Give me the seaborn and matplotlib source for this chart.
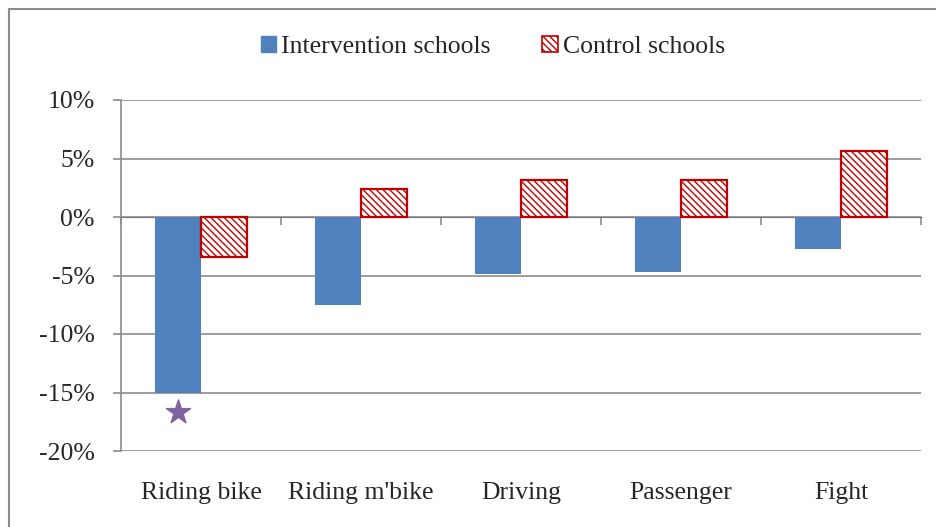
import matplotlib
matplotlib.use("Agg")
import matplotlib.pyplot as plt
from matplotlib.patches import Patch
from matplotlib.lines import Line2D
import numpy as np
import pandas as pd
import seaborn as sns

# data (percent change)
categories = ["Riding bike", "Riding m'bike", "Driving", "Passenger", "Fight"]
intervention = [-15.0, -7.5, -4.9, -4.7, -2.7]
control = [-3.4, 2.4, 3.2, 3.2, 5.6]
groups = ["Intervention schools", "Control schools"]
star_value = -16.7  # significance marker under riding bike
yticks = [-20, -15, -10, -5, 0, 5, 10]

sns.set_style("white")
plt.rcParams['font.family'] = ['Liberation Serif', 'DejaVu Serif']

df = pd.DataFrame({
    "cat": categories * 2,
    "val": intervention + control,
    "grp": [groups[0]] * len(categories) + [groups[1]] * len(categories),
})

blue = "#4F81BD"
red = "#C00000"
grey = "#8C8C8C"
fs = 18.5

fig = plt.figure(figsize=(9.37, 5.27), dpi=100)
ax = fig.add_axes([121/937, 1 - 451/527, 800/937, 351/527])

sns.barplot(data=df, x="cat", y="val", hue="grp", order=categories,
            hue_order=groups, palette=[blue, "white"], width=0.575,
            gap=0, ax=ax, legend=False, errorbar=None, saturation=1)

plt.rcParams['hatch.linewidth'] = 1.0
for p in ax.containers[0]:
    p.set_edgecolor(blue)
    p.set_linewidth(0)
for p in ax.containers[1]:
    p.set_facecolor("white")
    p.set_edgecolor(red)
    p.set_hatch("\\\\\\\\\\")
    p.set_linewidth(1.6)

# star under the first intervention bar
b0 = ax.containers[0][0]
ax.scatter([b0.get_x() + b0.get_width() / 2], [star_value], marker="*",
           s=330, color="#8064A2", zorder=5, clip_on=False)

ax.set_xlim(-0.5, len(categories) - 0.5)
ax.set_ylim(-20, 10)
ax.set_yticks(yticks)
ax.set_yticklabels([f"{v}%" for v in yticks])
ax.yaxis.grid(True, color=grey, linewidth=1.2)
ax.set_axisbelow(True)
ax.set_xlabel("")
ax.set_ylabel("")

for s in ["top", "right", "bottom"]:
    ax.spines[s].set_visible(False)
ax.spines["left"].set_color(grey)
ax.spines["left"].set_linewidth(1.2)
ax.tick_params(axis="y", direction="out", length=6, width=1.2, color=grey,
               labelsize=fs, pad=13, left=True)
ax.tick_params(axis="x", length=0, labelsize=fs, pad=22)

# category axis crossing at 0
sec = ax.secondary_xaxis(20 / 30)
sec.set_xticks(np.arange(len(categories) + 1) - 0.5)
sec.set_xticklabels([])
sec.spines["bottom"].set_color(grey)
sec.spines["bottom"].set_linewidth(1.6)
sec.tick_params(axis="x", direction="in", length=6, width=1.2, color=grey)
sec.spines["bottom"].set_zorder(4)

handles = [Patch(facecolor=blue, edgecolor=blue),
           Patch(facecolor="white", edgecolor=red, hatch="\\\\\\\\\\", linewidth=1.2)]
fig.legend(handles, groups, loc="center", bbox_to_anchor=(0.526, 1 - 47/527),
           ncol=2, frameon=False, fontsize=fs, handlelength=0.6,
           handleheight=0.6, handletextpad=0.2, columnspacing=2.0)

# outer frame (top and left visible in the crop)
fig.add_artist(Line2D([9/937, 9/937], [0, 1 - 9/527], transform=fig.transFigure,
                      color=grey, linewidth=1.5))
fig.add_artist(Line2D([9/937, 1], [1 - 9/527, 1 - 9/527], transform=fig.transFigure,
                      color=grey, linewidth=1.5))

fig.savefig("out.png", dpi=100)
